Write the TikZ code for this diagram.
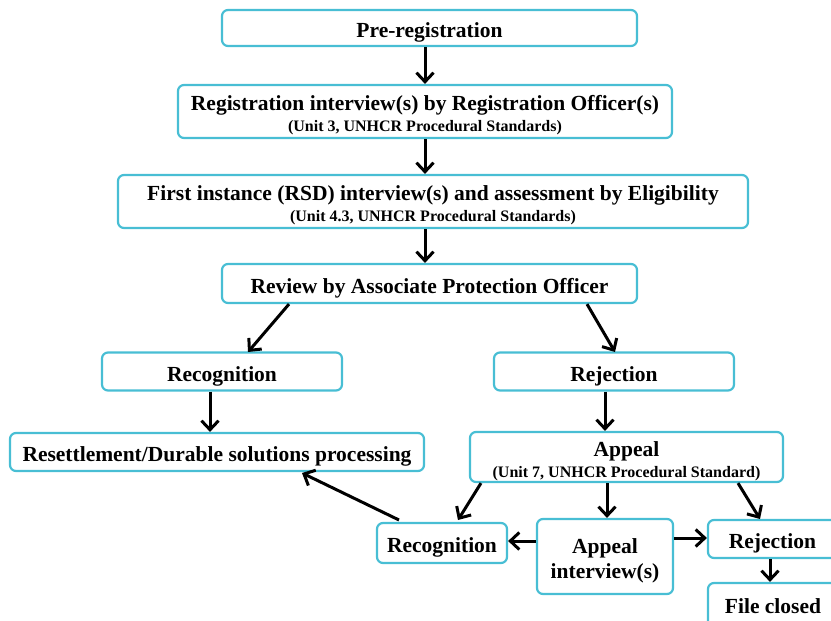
\documentclass[tikz,border=0pt]{standalone}
\usepackage{fontspec}
\setmainfont{Liberation Serif}
\usetikzlibrary{arrows.meta}
\definecolor{boxc}{RGB}{72,190,212}
\newcommand{\subtxt}[1]{{\fontsize{16}{18}\selectfont #1}}
\newcommand{\bt}[2][4.5pt]{\raisebox{-#1}[\height][\depth]{\begin{tabular}{@{}c@{}}#2\end{tabular}}}
\tikzset{
  box/.style={draw=boxc, line width=2.2pt, rounded corners=6pt, fill=white, inner sep=0pt, font=\bfseries\fontsize{21.5}{25}\selectfont},
  arr/.style={line width=3pt, -{Straight Barb[length=9pt,width=17pt,line width=3pt]}}
}
\begin{document}
\begin{tikzpicture}[x=1pt,y=-1pt]
\clip (0,0) rectangle (831,621);
\useasboundingbox (0,0) rectangle (831,621);
\node[box, minimum width=415, minimum height=36] (pre) at (429.5,28) {\bt{Pre-registration}};
\node[box, minimum width=494, minimum height=53] (reg) at (425,111.5) {\bt{Registration interview(s) by Registration Officer(s)\\[-4pt]\subtxt{(Unit 3, UNHCR Procedural Standards)}}};
\node[box, minimum width=630, minimum height=53] (first) at (433,201.5) {\bt{First instance (RSD) interview(s) and assessment by Eligibility\\[-4pt]\subtxt{(Unit 4.3, UNHCR Procedural Standards)}}};
\node[box, minimum width=415, minimum height=39] (rev) at (429.5,283.5) {\bt{Review by Associate Protection Officer}};
\node[box, minimum width=240, minimum height=38] (rec1) at (222,371.5) {\bt{Recognition}};
\node[box, minimum width=240, minimum height=38] (rej1) at (614,371.5) {\bt{Rejection}};
\node[box, minimum width=414, minimum height=38] (res) at (217,452) {\bt{Resettlement/Durable solutions processing}};
\node[box, minimum width=313, minimum height=50] (app) at (626.5,457) {\bt{Appeal\\[-4pt]\subtxt{(Unit 7, UNHCR Procedural Standard)}}};
\node[box, minimum width=130, minimum height=40] (rec2) at (442,543) {\bt{Recognition}};
\node[box, minimum width=136, minimum height=75] (aint) at (605,556.5) {\bt{Appeal\\interview(s)}};
\node[box, minimum width=129, minimum height=38] (rej2) at (772.5,539) {\bt{Rejection}};
\node[box, minimum width=130, minimum height=44] (fc) at (773,605) {\bt[3pt]{File closed}};

\draw[arr] (pre.south -| 425,0) -- (reg.north -| 425,0);
\draw[arr] (reg.south -| 425,0) -- (first.north -| 425,0);
\draw[arr] (first.south -| 425,0) -- (rev.north -| 425,0);
\draw[arr] (rev.south -| 289,0) -- (248,352);
\draw[arr] (rev.south -| 587,0) -- (615,352);
\draw[arr] (rec1.south -| 210,0) -- (res.north -| 210,0);
\draw[arr] (rej1.south -| 605,0) -- (app.north -| 605,0);
\draw[arr] (app.south -| 481,0) -- (458,520);
\draw[arr] (app.south -| 607,0) -- (aint.north -| 607,0);
\draw[arr] (app.south -| 738,0) -- (760,519);
\draw[arr] (aint.west |- 0,541) -- (rec2.east |- 0,541);
\draw[arr] (aint.east |- 0,538) -- (rej2.west |- 0,538);
\draw[arr] (rej2.south -| 770,0) -- (fc.north -| 770,0);
\draw[arr] (399,520) -- (302,473);
\end{tikzpicture}
\end{document}
